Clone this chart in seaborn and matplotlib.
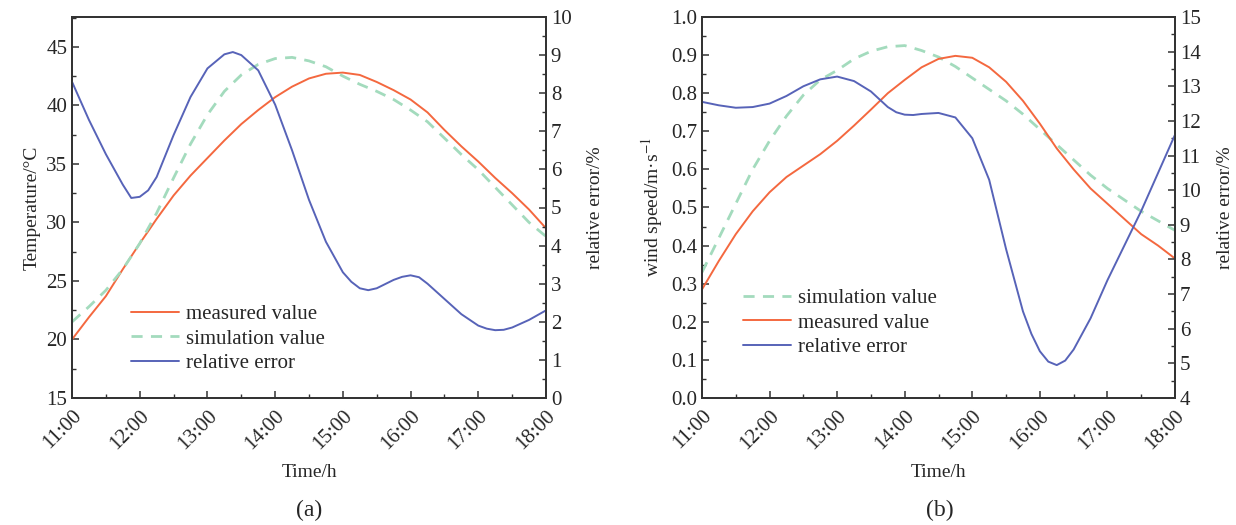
import numpy as np
import pandas as pd
import matplotlib
matplotlib.use("Agg")
import matplotlib.pyplot as plt
from matplotlib.ticker import MultipleLocator
import seaborn as sns

# ---------------- data ----------------
hours = [11, 11.25, 11.5, 11.75, 12, 12.25, 12.5, 12.75, 13, 13.25, 13.5, 13.75,
         14, 14.25, 14.5, 14.75, 15, 15.25, 15.5, 15.75, 16, 16.25, 16.5, 16.75,
         17, 17.25, 17.5, 17.75, 18]
time_ticks = [11, 12, 13, 14, 15, 16, 17, 18]
time_labels = ["11:00", "12:00", "13:00", "14:00", "15:00", "16:00", "17:00", "18:00"]

# panel (a) temperature
temp_measured = [20.0, 21.9, 23.7, 26.0, 28.2, 30.3, 32.3, 34.0, 35.5, 37.0, 38.4, 39.6,
                 40.7, 41.6, 42.3, 42.7, 42.8, 42.6, 42.0, 41.3, 40.5, 39.4, 37.9, 36.5,
                 35.2, 33.8, 32.5, 31.1, 29.5]
temp_simulation = [21.5, 22.8, 24.2, 26.0, 28.2, 30.8, 33.8, 36.7, 39.2, 41.2, 42.6, 43.5,
                   44.0, 44.1, 43.8, 43.3, 42.5, 41.8, 41.2, 40.5, 39.6, 38.6, 37.2, 35.8,
                   34.5, 33.0, 31.5, 30.0, 28.8]
err_hours_a = [11, 11.25, 11.5, 11.75, 11.875, 12, 12.125, 12.25, 12.5, 12.75, 13, 13.25,
               13.375, 13.5, 13.75, 14, 14.25, 14.5, 14.75, 15, 15.125, 15.25, 15.375, 15.5,
               15.75, 15.875, 16, 16.125, 16.25, 16.5, 16.75, 17, 17.125, 17.25, 17.375,
               17.5, 17.75, 18]
temp_error = [8.3, 7.3, 6.4, 5.6, 5.25, 5.28, 5.45, 5.8, 6.9, 7.9, 8.65, 9.02,
              9.08, 9.0, 8.6, 7.7, 6.5, 5.2, 4.1, 3.3, 3.05, 2.88, 2.83, 2.88,
              3.1, 3.18, 3.22, 3.17, 3.0, 2.6, 2.2, 1.9, 1.82, 1.78, 1.79,
              1.85, 2.05, 2.3]

# panel (b) wind speed
wind_measured = [0.285, 0.36, 0.43, 0.49, 0.54, 0.58, 0.61, 0.64, 0.675, 0.715, 0.757, 0.80,
                 0.835, 0.868, 0.89, 0.898, 0.893, 0.868, 0.83, 0.78, 0.72, 0.655, 0.60, 0.55,
                 0.51, 0.47, 0.43, 0.40, 0.366]
wind_simulation = [0.33, 0.42, 0.51, 0.60, 0.675, 0.74, 0.795, 0.835, 0.86, 0.89, 0.91, 0.922,
                   0.925, 0.912, 0.895, 0.87, 0.84, 0.81, 0.78, 0.745, 0.705, 0.665, 0.625, 0.585,
                   0.55, 0.52, 0.49, 0.465, 0.44]
err_hours_b = [11, 11.25, 11.5, 11.75, 12, 12.25, 12.5, 12.75, 13, 13.25, 13.5, 13.75,
               13.875, 14, 14.125, 14.25, 14.5, 14.75, 15, 15.25, 15.5, 15.75, 15.875, 16,
               16.125, 16.25, 16.375, 16.5, 16.75, 17, 17.25, 17.5, 17.75, 18]
wind_error = [12.55, 12.45, 12.38, 12.4, 12.5, 12.72, 13.0, 13.2, 13.28, 13.15, 12.85, 12.4,
              12.25, 12.18, 12.17, 12.2, 12.23, 12.1, 11.5, 10.3, 8.3, 6.5, 5.85, 5.35,
              5.05, 4.95, 5.08, 5.4, 6.3, 7.4, 8.4, 9.4, 10.5, 11.6]

RED = "#f4683f"
GREEN = "#a3dbbd"
BLUE = "#5763b8"

sns.set_style("ticks")
plt.rcParams["font.family"] = ["Liberation Serif", "DejaVu Serif"]
plt.rcParams["mathtext.fontset"] = "stix"
plt.rcParams["axes.linewidth"] = 1.3
plt.rcParams["xtick.direction"] = "in"
plt.rcParams["ytick.direction"] = "in"

fig = plt.figure(figsize=(12.36, 5.25), dpi=100)
axA = fig.add_axes([72 / 1236, 1 - 398 / 525, (546 - 72) / 1236, (398 - 17) / 525])
axB = fig.add_axes([702 / 1236, 1 - 398 / 525, (1175 - 702) / 1236, (398 - 17) / 525])

dfA = pd.DataFrame({"t": hours, "meas": temp_measured, "sim": temp_simulation})
dfAe = pd.DataFrame({"t": err_hours_a, "err": temp_error})
dfB = pd.DataFrame({"t": hours, "meas": wind_measured, "sim": wind_simulation})
dfBe = pd.DataFrame({"t": err_hours_b, "err": wind_error})


def style_axes(ax, ax2):
    for a in (ax, ax2):
        a.tick_params(which="major", length=5, width=1.1, labelsize=15, color="#333333")
        a.tick_params(which="minor", length=3, width=1.0, color="#333333")
        for s in a.spines.values():
            s.set_color("#333333")
            s.set_visible(True)
    ax.set_xlim(11, 18)
    ax.set_xticks(time_ticks)
    ax.set_xticklabels(time_labels, rotation=45, ha="right", rotation_mode="anchor")
    ax.xaxis.set_minor_locator(MultipleLocator(0.5))
    ax.tick_params(axis="x", pad=6)
    ax.set_xlabel("Time/h", fontsize=14, labelpad=8)


LEG = dict(frameon=False, fontsize=15, loc="upper left", handlelength=2.3,
           handletextpad=0.3, labelspacing=0.25, borderaxespad=0)

# ---- panel (a)
sns.lineplot(data=dfA, x="t", y="meas", ax=axA, color=RED, lw=1.4, label="measured value")
sns.lineplot(data=dfA, x="t", y="sim", ax=axA, color=GREEN, lw=2.0, label="simulation value",
             linestyle=(0, (4, 3)))
axA2 = axA.twinx()
sns.lineplot(data=dfAe, x="t", y="err", ax=axA2, color=BLUE, lw=1.4, label="relative error")
axA.set_ylim(15, 47.55)
axA.yaxis.set_major_locator(MultipleLocator(5))
axA.yaxis.set_minor_locator(MultipleLocator(2.5))
axA2.set_ylim(0, 10)
axA2.yaxis.set_major_locator(MultipleLocator(1))
axA2.yaxis.set_minor_locator(MultipleLocator(0.5))
axA.set_ylabel("Temperature/°C", fontsize=14, labelpad=4)
axA2.set_ylabel("relative error/%", fontsize=14, labelpad=11)
style_axes(axA, axA2)
hA = axA.get_legend_handles_labels()
hA2 = axA2.get_legend_handles_labels()
axA.get_legend().remove()
axA2.get_legend().remove()
axA2.legend(hA[0] + hA2[0], hA[1] + hA2[1], bbox_to_anchor=(123 / 1236, 1 - 296 / 525),
            bbox_transform=fig.transFigure, **LEG)

# ---- panel (b)
sns.lineplot(data=dfB, x="t", y="sim", ax=axB, color=GREEN, lw=2.0, label="simulation value",
             linestyle=(0, (4, 3)))
sns.lineplot(data=dfB, x="t", y="meas", ax=axB, color=RED, lw=1.4, label="measured value")
axB2 = axB.twinx()
sns.lineplot(data=dfBe, x="t", y="err", ax=axB2, color=BLUE, lw=1.4, label="relative error")
axB.set_ylim(0, 1.0)
axB.yaxis.set_major_locator(MultipleLocator(0.1))
axB.yaxis.set_minor_locator(MultipleLocator(0.05))
axB.yaxis.set_major_formatter(matplotlib.ticker.FormatStrFormatter("%.1f"))
axB2.set_ylim(4, 15)
axB2.yaxis.set_major_locator(MultipleLocator(1))
axB2.yaxis.set_minor_locator(MultipleLocator(0.5))
axB.set_ylabel("wind speed/m·s$^{-1}$", fontsize=14, labelpad=4)
axB2.set_ylabel("relative error/%", fontsize=14, labelpad=12)
style_axes(axB, axB2)
hB = axB.get_legend_handles_labels()
hB2 = axB2.get_legend_handles_labels()
axB.get_legend().remove()
axB2.get_legend().remove()
axB2.legend(hB[0] + hB2[0], hB[1] + hB2[1], bbox_to_anchor=(735 / 1236, 1 - 280 / 525),
            bbox_transform=fig.transFigure, **LEG)

fig.text(309 / 1236, 1 - 510 / 525, "(a)", ha="center", va="center", fontsize=17)
fig.text(940 / 1236, 1 - 510 / 525, "(b)", ha="center", va="center", fontsize=17)

fig.savefig("out.png", dpi=100)
